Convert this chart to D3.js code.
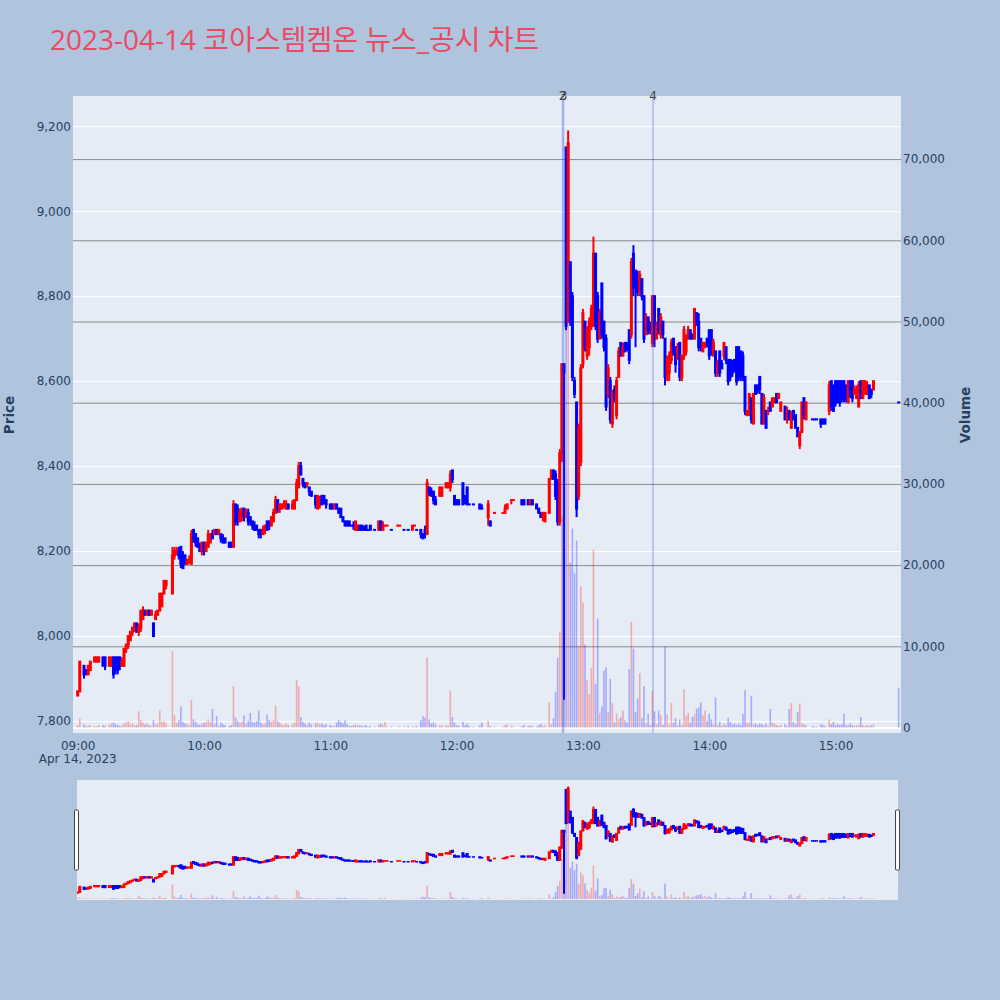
<!DOCTYPE html>
<html><head><meta charset="utf-8">
<script src="https://cdn.jsdelivr.net/npm/d3@7"></script>
<style>
body{margin:0;background:#B0C4DE;}
svg text{font-family:"DejaVu Sans",Verdana,sans-serif;}
</style>
</head><body>
<svg id="c" width="1000" height="1000"></svg>
<script>
// ---------------- DATA (minutes after 09:00) ----------------
const minutes = [
 0,1,3,4,5,6,8,9,10,12,13,15,16,17,18,19,20,21,22,23,24,25,26,27,28,29,30,31,32,33,34,35,36,37,38,39,40,41,42,45,46,47,48,49,50,51,52,53,54,55,56,57,58,59,
 60,61,62,63,64,65,66,67,68,69,70,72,73,74,75,76,77,78,79,80,81,82,83,84,85,86,87,88,89,90,91,92,93,94,95,96,97,98,99,100,102,103,104,105,106,107,108,109,110,111,113,114,115,116,117,118,
 120,121,122,123,124,125,126,127,128,129,130,131,132,133,134,135,136,137,138,139,141,143,144,145,146,147,149,152,153,155,157,159,160,161,163,164,165,166,167,168,169,170,172,173,175,176,177,178,179,
 180,181,183,184,185,186,188,191,192,195,196,198,202,203,204,206,207,211,212,214,215,216,218,219,220,221,222,224,225,226,227,228,229,230,231,232,233,234,235,236,237,238,239,
 240,241,242,243,244,245,246,247,248,249,250,251,252,253,254,255,256,257,258,259,260,261,262,263,264,265,266,267,268,269,270,271,272,273,274,275,276,277,278,279,280,281,282,283,284,285,286,287,288,289,290,291,292,293,294,295,296,297,298,299,
 300,301,302,303,304,305,306,307,308,309,310,311,312,313,314,315,316,317,318,319,320,321,322,323,324,325,326,327,328,329,330,331,332,333,334,336,337,338,339,340,341,342,343,344,345,346,349,350,351,353,354,355,357,358,359,
 360,361,362,363,364,365,366,367,368,369,370,371,372,373,374,375,376,377,378,390
];
const openP = [
 7860,7870,7930,7920,7910,7920,7940,7940,7940,7950,7950,7930,7930,7950,7950,7950,7950,7930,7930,7970,7980,7990,8010,8020,8030,8010,8020,8040,8060,8050,8060,8050,8030,8040,8050,8060,8070,8100,8120,8100,8190,8200,8200,8210,8190,8190,8170,8180,8170,8250,8240,8230,8210,8200,
 8220,8200,8210,8220,8240,8240,8250,8240,8240,8230,8230,8220,8220,8210,8310,8300,8270,8280,8300,8280,8290,8280,8270,8260,8260,8250,8250,8240,8250,8270,8270,8260,8270,8290,8320,8300,8300,8310,8300,8310,8300,8300,8320,8350,8400,8370,8360,8360,8350,8340,8330,8300,8310,8330,8330,8320,
 8310,8310,8300,8310,8300,8300,8280,8270,8270,8270,8260,8260,8250,8250,8260,8260,8250,8260,8250,8260,8250,8250,8270,8250,8260,8260,8250,8260,8260,8250,8250,8250,8260,8250,8250,8240,8250,8240,8350,8340,8340,8320,8330,8330,8350,8350,8350,8390,8330,
 8320,8320,8360,8330,8350,8310,8310,8310,8300,8280,8270,8290,8290,8290,8300,8320,8320,8320,8320,8320,8310,8320,8310,8300,8290,8280,8270,8290,8370,8390,8380,8360,8270,8430,8640,9150,8740,8880,8800,8600,8550,8330,8410,
 8640,8740,8660,8680,8730,8730,8900,8800,8700,8830,8740,8700,8570,8600,8500,8580,8520,8610,8690,8660,8690,8690,8720,8710,8900,8860,8850,8810,8840,8800,8710,8750,8730,8690,8800,8700,8770,8710,8740,8700,8610,8620,8650,8700,8680,8660,8690,8610,8660,8670,8700,8720,8710,8700,8760,8740,8700,8670,8680,8700,
 8720,8720,8660,8670,8620,8670,8640,8660,8680,8650,8650,8640,8650,8680,8680,8670,8660,8610,8520,8520,8560,8500,8590,8590,8610,8570,8500,8530,8530,8550,8540,8550,8570,8560,8530,8540,8510,8530,8490,8530,8520,8490,8450,8480,8560,8510,8510,8510,8510,8510,8510,8510,8530,8600,8590,
 8600,8600,8600,8600,8600,8590,8550,8600,8600,8570,8560,8540,8600,8560,8570,8570,8590,8580,8580,8550
];
const highP = [
 7870,7940,7930,7920,7930,7940,7950,7950,7950,7950,7950,7950,7950,7950,7950,7950,7950,7950,7970,7980,8000,8010,8020,8030,8030,8030,8060,8070,8060,8060,8060,8060,8030,8060,8060,8100,8100,8130,8130,8210,8210,8210,8210,8210,8200,8190,8180,8190,8250,8250,8240,8230,8220,8220,
 8220,8220,8250,8240,8250,8250,8250,8250,8240,8240,8230,8220,8220,8320,8310,8310,8300,8300,8300,8300,8300,8280,8270,8270,8260,8250,8250,8260,8260,8270,8270,8280,8300,8330,8320,8310,8310,8320,8320,8310,8320,8320,8370,8410,8410,8370,8360,8360,8350,8340,8330,8330,8330,8330,8330,8320,
 8310,8310,8310,8310,8300,8300,8280,8270,8270,8270,8260,8270,8270,8260,8260,8260,8260,8260,8250,8260,8250,8270,8270,8270,8260,8260,8250,8260,8260,8250,8250,8260,8260,8250,8250,8240,8260,8370,8350,8350,8340,8330,8350,8350,8360,8360,8390,8390,8330,
 8320,8320,8360,8330,8350,8310,8310,8310,8310,8320,8270,8290,8290,8310,8310,8320,8320,8320,8320,8320,8320,8320,8310,8300,8290,8290,8290,8370,8390,8390,8390,8370,8440,8640,8640,9150,9190,8880,8810,8610,8550,8500,8640,
 8770,8740,8730,8750,8780,8940,8900,8810,8770,8830,8740,8710,8640,8610,8580,8590,8610,8680,8690,8690,8690,8690,8720,8890,8920,8860,8860,8860,8840,8800,8760,8750,8740,8800,8800,8740,8770,8760,8740,8700,8660,8670,8700,8700,8680,8690,8690,8660,8730,8710,8730,8720,8710,8770,8760,8760,8700,8690,8690,8700,
 8720,8720,8700,8670,8650,8670,8650,8690,8680,8650,8650,8650,8650,8680,8680,8670,8670,8610,8530,8570,8560,8570,8590,8590,8610,8570,8570,8530,8540,8550,8560,8560,8570,8570,8550,8540,8540,8530,8530,8530,8520,8490,8480,8550,8560,8550,8510,8510,8510,8510,8510,8510,8600,8600,8590,
 8600,8600,8600,8600,8600,8590,8600,8600,8600,8590,8590,8600,8600,8600,8600,8600,8590,8580,8600,8550
];
const lowP = [
 7860,7870,7900,7910,7910,7920,7940,7940,7940,7930,7920,7930,7930,7900,7910,7910,7920,7930,7930,7960,7970,7990,8000,8010,8010,8000,8010,8040,8050,8050,8050,8050,8000,8040,8050,8060,8070,8100,8110,8100,8180,8190,8180,8160,8160,8170,8170,8170,8170,8220,8210,8210,8200,8190,
 8190,8200,8210,8220,8230,8240,8240,8240,8220,8220,8220,8210,8210,8210,8260,8260,8270,8270,8270,8280,8260,8260,8250,8250,8250,8230,8230,8240,8240,8250,8250,8260,8270,8290,8290,8290,8300,8300,8300,8300,8300,8300,8320,8350,8380,8350,8350,8350,8330,8330,8300,8300,8300,8310,8310,8300,
 8300,8300,8300,8300,8290,8280,8270,8260,8260,8260,8260,8250,8250,8250,8250,8250,8250,8250,8250,8250,8250,8250,8250,8250,8260,8260,8250,8260,8260,8250,8250,8250,8260,8250,8230,8230,8230,8240,8330,8330,8310,8310,8330,8330,8350,8350,8340,8360,8310,
 8310,8310,8310,8310,8310,8310,8310,8300,8300,8260,8260,8290,8290,8290,8300,8310,8320,8310,8310,8310,8310,8310,8300,8290,8280,8270,8270,8290,8370,8370,8320,8260,8260,8410,7850,8720,8740,8730,8600,8560,8280,8320,8400,
 8630,8670,8650,8660,8720,8730,8720,8690,8700,8700,8670,8530,8560,8500,8490,8550,8510,8610,8660,8660,8670,8670,8640,8700,8800,8680,8800,8800,8790,8690,8710,8710,8710,8680,8680,8700,8710,8700,8700,8590,8600,8600,8640,8660,8620,8650,8600,8600,8650,8660,8700,8700,8700,8700,8730,8670,8670,8670,8680,8680,
 8650,8660,8660,8610,8610,8610,8630,8650,8640,8590,8600,8610,8620,8590,8600,8600,8600,8520,8520,8520,8500,8500,8570,8570,8570,8500,8500,8490,8520,8530,8540,8550,8550,8560,8530,8510,8500,8510,8490,8510,8490,8470,8440,8480,8510,8510,8510,8510,8510,8490,8500,8500,8520,8530,8530,
 8540,8550,8540,8550,8550,8550,8550,8560,8550,8570,8560,8540,8560,8560,8570,8570,8560,8560,8580,8550
];
const closeP = [
 7870,7940,7910,7910,7930,7940,7950,7950,7950,7930,7930,7950,7950,7910,7920,7920,7930,7940,7970,7980,8000,8010,8020,8030,8010,8020,8060,8060,8050,8060,8050,8060,8000,8050,8060,8100,8100,8130,8130,8190,8200,8200,8190,8170,8160,8170,8180,8180,8240,8230,8220,8210,8200,8220,
 8200,8220,8240,8240,8230,8250,8240,8250,8230,8220,8220,8210,8210,8310,8270,8270,8290,8300,8280,8290,8270,8270,8260,8250,8250,8240,8240,8250,8260,8250,8260,8280,8290,8320,8300,8310,8310,8310,8310,8300,8310,8320,8360,8400,8380,8360,8350,8360,8340,8330,8310,8330,8320,8310,8320,8310,
 8300,8300,8310,8300,8290,8280,8270,8260,8260,8260,8260,8260,8270,8260,8250,8250,8250,8250,8250,8250,8250,8270,8250,8260,8260,8260,8250,8260,8260,8250,8250,8260,8260,8250,8240,8230,8240,8360,8340,8330,8320,8310,8350,8350,8360,8360,8380,8370,8310,
 8310,8310,8310,8320,8310,8310,8310,8300,8300,8310,8260,8290,8290,8300,8310,8320,8320,8310,8310,8310,8320,8310,8300,8290,8280,8290,8290,8370,8390,8370,8330,8270,8430,8640,8620,8730,9160,8740,8610,8570,8300,8490,8630,
 8760,8680,8720,8740,8770,8900,8730,8700,8760,8710,8680,8540,8630,8510,8570,8560,8600,8670,8660,8680,8670,8680,8650,8880,8820,8830,8810,8850,8800,8700,8750,8720,8720,8800,8700,8730,8720,8750,8710,8610,8650,8660,8690,8670,8640,8680,8610,8660,8720,8700,8720,8700,8700,8770,8740,8680,8680,8690,8690,8690,
 8660,8670,8690,8620,8640,8620,8630,8690,8650,8600,8610,8620,8630,8600,8610,8610,8610,8530,8530,8570,8510,8570,8570,8580,8580,8500,8560,8490,8530,8530,8560,8560,8550,8570,8550,8510,8530,8510,8520,8510,8490,8470,8480,8550,8520,8550,8510,8510,8510,8500,8500,8500,8590,8540,8530,
 8550,8550,8550,8560,8560,8560,8600,8570,8560,8580,8580,8590,8560,8600,8600,8590,8560,8570,8600,8550
];
const volume = [
 300,1100,400,200,250,300,200,150,300,300,200,350,500,600,400,300,200,250,500,600,800,400,500,300,300,2000,900,600,400,500,300,200,900,400,500,2100,700,800,500,9400,1500,600,900,2600,700,500,400,300,3400,1000,700,400,300,500,
 600,700,1000,700,2300,400,1400,200,600,400,300,200,300,5100,1200,800,600,700,1500,500,800,1800,700,600,800,2100,600,400,500,1600,900,700,900,2700,800,600,400,300,500,300,400,600,5850,5100,1300,700,500,300,600,400,500,600,400,500,300,400,
 300,200,200,600,900,700,500,900,400,200,200,300,400,300,300,200,200,300,100,200,100,400,500,300,700,100,100,100,100,100,200,100,100,200,900,1400,1200,8600,1000,500,600,400,300,300,300,200,4500,1300,600,
 300,200,700,300,500,200,100,300,600,800,200,100,100,300,400,200,100,200,300,200,300,200,100,300,450,200,300,3100,400,1150,4400,8600,11700,26000,3800,51000,73400,20300,24500,19000,23000,10000,17400,
 15400,10200,5800,4100,7300,21900,5400,13400,1800,2600,7000,7400,1900,6000,3000,650,1700,1000,1300,2100,860,600,7200,13000,9700,1900,3600,6700,1150,5100,500,1700,300,4500,2000,400,2100,1500,300,10000,1600,400,3000,600,1150,250,1000,300,4700,1400,1800,600,1300,1600,2300,2500,3100,1500,2100,800,
 1700,1000,400,3700,300,700,200,500,300,1200,700,400,500,300,500,300,1700,4600,600,500,3900,400,500,300,500,400,300,500,200,2300,600,500,300,200,300,400,200,2300,3000,700,400,1900,2900,500,400,300,200,100,100,400,300,200,1000,400,700,
 300,400,300,400,1700,300,300,500,300,200,300,300,1300,300,200,300,200,300,400,4900
];
// news markers (minutes after 09:00) and their labels
const newsMinutes = [230.3, 230.8, 273.3];
const newsLabels = ["2", "3", "4"];
// axis ticks
const priceTicks = [7800, 8000, 8200, 8400, 8600, 8800, 9000, 9200];
const volumeTicks = [0, 10000, 20000, 30000, 40000, 50000, 60000, 70000];
const timeTickMinutes = [0, 60, 120, 180, 240, 300, 360];
const timeTickLabels = ["09:00", "10:00", "11:00", "12:00", "13:00", "14:00", "15:00"];
const dateLabel = "Apr 14, 2023";
const titleText = "2023-04-14 코아스템켐온 뉴스_공시 차트";

// ---------------- LAYOUT ----------------
const svg = d3.select("#c");
const plot = {l: 73, r: 901, t: 96, b: 733};
const sl = {l: 77, r: 898, t: 780, b: 900};
const UP = "#FF0000", DOWN = "#0000FF", TXT = "#2a3f5f";

svg.append("rect").attr("width", 1000).attr("height", 1000).attr("fill", "#B0C4DE");

const x = d3.scaleLinear().domain([-2.23, 391.1]).range([plot.l, plot.r]);
const yP = d3.scaleLinear().domain([7772, 9271]).range([plot.b, plot.t]);
const yV = d3.scaleLinear().domain([-677, 77770]).range([plot.b, plot.t]);
const ySP = d3.scaleLinear().domain([7772, 9271]).range([sl.b, sl.t]);
const ySV = d3.scaleLinear().domain([-677, 77770]).range([sl.b, sl.t]);

// direction (equal open/close -> compare with previous close, else previous direction)
const up = [];
minutes.forEach((m, i) => {
  const o = openP[i], c = closeP[i];
  if (c > o) up.push(true);
  else if (c < o) up.push(false);
  else if (i === 0) up.push(true);
  else if (c > closeP[i-1]) up.push(true);
  else if (c < closeP[i-1]) up.push(false);
  else up.push(up[i-1]);
});
const data = minutes.map((m, i) => ({m, o: openP[i], h: highP[i], l: lowP[i], c: closeP[i], v: volume[i], up: up[i]}));

// title
svg.append("text").attr("x", 50).attr("y", 50)
  .attr("font-size", 28).attr("fill", "#E94B64")
  .style("font-family", "'Open Sans','Noto Sans CJK KR',sans-serif")
  .text(titleText);

// main plot background
svg.append("rect").attr("x", plot.l).attr("y", plot.t).attr("width", plot.r - plot.l).attr("height", plot.b - plot.t).attr("fill", "#E5ECF6");

// price grid (white)
const gP = svg.append("g").attr("transform", `translate(${plot.l},0)`)
  .call(d3.axisLeft(yP).tickValues(priceTicks).tickSize(-(plot.r - plot.l)).tickFormat(d3.format(",")));
gP.select(".domain").remove();
gP.selectAll(".tick line").attr("stroke", "#ffffff").attr("stroke-width", 1);
gP.selectAll(".tick text").attr("x", -2).attr("fill", TXT).attr("font-size", 12).style("font-family", "'DejaVu Sans',Verdana,sans-serif");

// volume grid (gray)
const gV = svg.append("g").attr("transform", `translate(${plot.r},0)`)
  .call(d3.axisRight(yV).tickValues(volumeTicks).tickSize(-(plot.r - plot.l)).tickFormat(d3.format(",")));
gV.select(".domain").remove();
gV.selectAll(".tick line").attr("stroke", d => d === 0 ? "#ffffff" : "#8a8a8a").attr("stroke-width", d => d === 0 ? 2 : 1);
gV.selectAll(".tick text").attr("x", 2).attr("fill", TXT).attr("font-size", 12).style("font-family", "'DejaVu Sans',Verdana,sans-serif");

// candles
function drawCandles(g, yS, bodyW, wickW, minH) {
  const c = g.selectAll("g.cd").data(data).join("g").attr("class", "cd");
  c.append("line")
    .attr("x1", d => x(d.m)).attr("x2", d => x(d.m))
    .attr("y1", d => yS(d.h)).attr("y2", d => yS(d.l))
    .attr("stroke", d => d.up ? UP : DOWN).attr("stroke-width", wickW);
  c.append("rect")
    .attr("x", d => x(d.m) - bodyW / 2)
    .attr("y", d => Math.min(yS(d.o), yS(d.c)) - minH / 2)
    .attr("width", bodyW)
    .attr("height", d => Math.abs(yS(d.o) - yS(d.c)) + minH)
    .attr("fill", d => d.up ? UP : DOWN);
}
function drawVolume(g, yS) {
  g.selectAll("rect.vb").data(data).join("rect").attr("class", "vb")
    .attr("x", d => x(d.m) - 0.8).attr("width", 1.6)
    .attr("y", d => yS(d.v)).attr("height", d => yS(0) - yS(d.v))
    .attr("fill", d => d.up ? UP : DOWN).attr("fill-opacity", 0.28);
}
const main = svg.append("g");
drawCandles(main, yP, 3, 2, 2);
drawVolume(main, yV);

// news lines
const news = svg.append("g");
news.selectAll("line").data(newsMinutes).join("line")
  .attr("x1", d => x(d)).attr("x2", d => x(d))
  .attr("y1", plot.t).attr("y2", plot.b)
  .attr("stroke", "rgba(40,70,230,0.3)").attr("stroke-width", 1.5);
news.selectAll("text").data(newsMinutes).join("text")
  .attr("x", d => x(d)).attr("y", plot.t + 4)
  .attr("text-anchor", "middle").attr("font-size", 12).attr("fill", "#444")
  .text((d, i) => newsLabels[i]);

// x axis labels
const gX = svg.append("g").attr("transform", `translate(0,${plot.b})`)
  .call(d3.axisBottom(x).tickValues(timeTickMinutes).tickSize(0).tickFormat((d, i) => timeTickLabels[i]));
gX.select(".domain").remove();
gX.selectAll(".tick text").attr("y", 16.5).attr("dy", 0).attr("fill", TXT).attr("font-size", 12).style("font-family", "'DejaVu Sans',Verdana,sans-serif");
svg.append("text").attr("x", x(0)).attr("y", 763).attr("text-anchor", "middle")
  .attr("font-size", 12).attr("fill", TXT).text(dateLabel);

// axis titles
svg.append("text").attr("transform", "translate(14,415) rotate(-90)").attr("text-anchor", "middle")
  .attr("font-size", 13.5).attr("font-weight", "bold").attr("fill", TXT).text("Price");
svg.append("text").attr("transform", "translate(970,415) rotate(-90)").attr("text-anchor", "middle")
  .attr("font-size", 13.5).attr("font-weight", "bold").attr("fill", TXT).text("Volume");

// range slider
svg.append("rect").attr("x", sl.l).attr("y", sl.t).attr("width", sl.r - sl.l).attr("height", sl.b - sl.t).attr("fill", "#E5ECF6");
const mini = svg.append("g");
svg.append("clipPath").attr("id", "slclip").append("rect")
  .attr("x", sl.l).attr("y", sl.t).attr("width", sl.r - sl.l).attr("height", sl.b - sl.t);
mini.attr("clip-path", "url(#slclip)");
drawCandles(mini, ySP, 3, 2, 1.5);
drawVolume(mini, ySV);
// handles
[sl.l, sl.r].forEach(hx => {
  svg.append("rect").attr("x", hx - 2.5).attr("y", 810).attr("width", 4).attr("height", 60)
    .attr("fill", "#ffffff").attr("stroke", "#444").attr("stroke-width", 1).attr("rx", 1);
});
</script>
</body></html>
